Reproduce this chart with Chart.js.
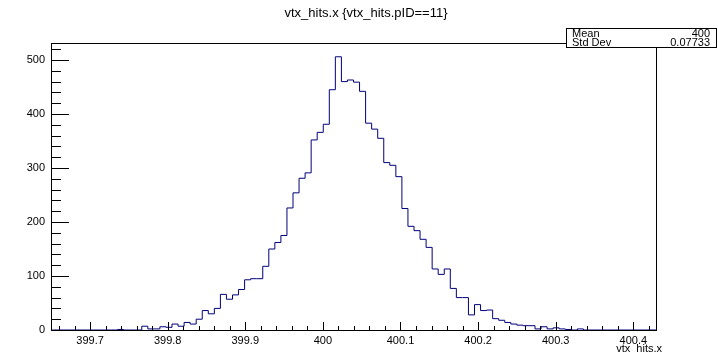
<!DOCTYPE html>
<html><head><meta charset="utf-8">
<script src="https://cdn.jsdelivr.net/npm/chart.js@4"></script>
<style>html,body{margin:0;padding:0;background:#fff;}#wrap{width:718px;height:353px;position:relative;}</style>
</head><body><div id="wrap"><canvas id="c" width="718" height="353"></canvas></div>
<script>
const chartTitle = "vtx_hits.x {vtx_hits.pID==11}";
const xAxisTitle = "vtx_hits.x";
const xMin = 399.6497;
const xMax = 400.4292;
const nBins = 100;
const counts = [
  0,0,0,0,0,0,0,0,0,0,
  0,0,1,0,0,0,7,2,2,6,
  5,11,7,14,11,20,36,30,40,66,
  57,65,75,93,95,95,118,150,162,175,
  226,254,281,291,352,366,381,445,506,460,
  463,459,442,383,372,355,310,305,284,225,
  192,184,168,153,113,103,113,77,60,60,
  28,47,36,37,21,18,14,11,9,8,
  8,2,6,2,4,2,1,0,2,0,
  0,0,0,0,0,0,0,0,0,0
];
const xTickValues = [399.7, 399.8, 399.9, 400.0, 400.1, 400.2, 400.3, 400.4];
const xTickLabels = ["399.7", "399.8", "399.9", "400", "400.1", "400.2", "400.3", "400.4"];
const yTickValues = [0, 100, 200, 300, 400, 500];
const yMax = 531.5;
const statsLabels = ["Mean", "Std Dev"];
const statsValues = ["400", "0.07733"];

const binWidth = (xMax - xMin) / nBins;
const points = counts.map((v, i) => ({x: xMin + i * binWidth, y: v}));
points.push({x: xMax, y: counts[counts.length - 1]});

const FONT = "'Liberation Sans', Arial, sans-serif";

const rootDecor = {
  id: 'rootDecor',
  afterDraw(chart) {
    const ctx = chart.ctx;
    const a = chart.chartArea;
    const xs = chart.scales.x, ys = chart.scales.y;
    ctx.save();
    ctx.strokeStyle = '#000';
    ctx.lineWidth = 1;
    // frame
    ctx.strokeRect(Math.round(a.left) + 0.5, Math.round(a.top) + 0.5,
                   Math.round(a.right - a.left), Math.round(a.bottom - a.top));
    ctx.beginPath();
    // x ticks
    for (let k = 0; ; k++) {
      const v = 399.66 + k * 0.02;
      if (v > xMax) break;
      const px = Math.round(xs.getPixelForValue(v)) + 0.5;
      const major = xTickValues.some(t => Math.abs(t - v) < 1e-6);
      const len = major ? 8 : 4;
      ctx.moveTo(px, a.bottom);
      ctx.lineTo(px, a.bottom - len);
    }
    // y ticks
    for (let v = 0; v <= yMax; v += 20) {
      const py = Math.round(ys.getPixelForValue(v)) + 0.5;
      const len = (v % 100 === 0) ? 18 : 10;
      ctx.moveTo(a.left, py);
      ctx.lineTo(a.left + len, py);
    }
    ctx.stroke();
    // title
    ctx.fillStyle = '#000';
    ctx.font = '13px ' + FONT;
    ctx.textAlign = 'center';
    ctx.textBaseline = 'middle';
    ctx.fillText(chartTitle, 366, 13);
    // axis title
    ctx.font = '11px ' + FONT;
    ctx.textAlign = 'right';
    ctx.textBaseline = 'alphabetic';
    ctx.fillText(xAxisTitle, 662, 352);
    // stats box
    const bx = 566, by = 28, bw = 150, bh = 19;
    ctx.fillStyle = '#fff';
    ctx.fillRect(bx, by, bw, bh);
    ctx.strokeRect(bx + 0.5, by + 0.5, bw, bh);
    ctx.fillStyle = '#000';
    ctx.font = '11px ' + FONT;
    for (let i = 0; i < statsLabels.length; i++) {
      const ty = by + 9 + i * 9;
      ctx.textAlign = 'left';
      ctx.fillText(statsLabels[i], bx + 6, ty);
      ctx.textAlign = 'right';
      ctx.fillText(statsValues[i], bx + bw - 6, ty);
    }
    ctx.restore();
  }
};

new Chart(document.getElementById('c'), {
  type: 'line',
  data: {
    datasets: [{
      data: points,
      stepped: 'after',
      borderColor: '#00007a',
      borderWidth: 1,
      pointRadius: 0,
      fill: false,
      tension: 0
    }]
  },
  options: {
    responsive: false,
    animation: false,
    devicePixelRatio: 1,
    layout: {padding: {left: 0, top: 43, right: 62, bottom: 0}},
    plugins: {legend: {display: false}, tooltip: {enabled: false}, title: {display: false}},
    scales: {
      x: {
        type: 'linear',
        min: xMin, max: xMax,
        grid: {display: false, drawTicks: false},
        border: {display: false},
        afterBuildTicks: s => { s.ticks = xTickValues.map(v => ({value: v})); },
        afterFit: s => { s.height = 23; },
        ticks: {
          color: '#000', font: {family: FONT, size: 11}, padding: 4,
          maxRotation: 0, autoSkip: false,
          callback: (v) => { const i = xTickValues.findIndex(t => Math.abs(t - v) < 1e-6); return i >= 0 ? xTickLabels[i] : ''; }
        }
      },
      y: {
        type: 'linear',
        min: 0, max: yMax,
        grid: {display: false, drawTicks: false},
        border: {display: false},
        afterBuildTicks: s => { s.ticks = yTickValues.map(v => ({value: v})); },
        afterFit: s => { s.width = 51; },
        ticks: {color: '#000', font: {family: FONT, size: 11}, padding: 6, autoSkip: false}
      }
    }
  },
  plugins: [rootDecor]
});
</script>
</body></html>
